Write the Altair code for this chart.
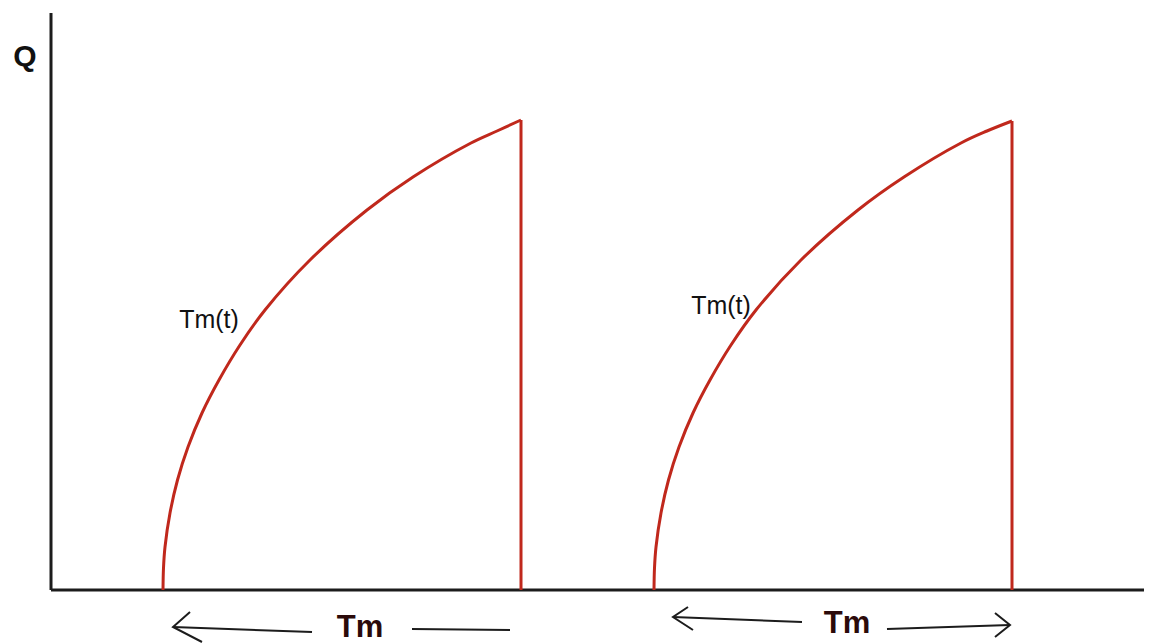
import altair as alt
import pandas as pd

# Curve data in chart units (t along the horizontal axis, Q vertical)
c1_t = [1.12, 1.125, 1.14, 1.19, 1.265, 1.37, 1.51, 1.68, 1.89, 2.14, 2.59, 3.16, 3.62, 4.20, 4.46, 4.70]
c1_q = [0.00, 0.22, 0.43, 0.77, 1.10, 1.43, 1.77, 2.10, 2.45, 2.80, 3.30, 3.80, 4.13, 4.47, 4.59, 4.70]
c2_t = [6.03, 6.035, 6.05, 6.10, 6.175, 6.28, 6.42, 6.59, 6.80, 7.05, 7.50, 8.07, 8.53, 9.10, 9.36, 9.61]
c2_q = [0.00, 0.22, 0.43, 0.77, 1.10, 1.43, 1.77, 2.10, 2.45, 2.80, 3.30, 3.80, 4.13, 4.47, 4.59, 4.69]

# Vertical drops at the end of each cycle
drop_t = [4.70, 9.61]
drop_top = [4.70, 4.69]

# Axis extents
x_axis_end = 10.94
y_axis_end = 5.77

# Labels
curve_labels = ["Tm(t)", "Tm(t)"]
curve_label_t = [1.58, 6.70]
curve_label_q = [2.70, 2.84]
period_labels = ["Tm", "Tm"]
period_label_t = [3.09, 7.96]
period_label_q = [-0.47, -0.43]

# Arrow / bracket polylines (id, t, Q)
arrow_id = ["a", "a", "ah", "ah", "ah", "b", "b", "c", "c", "ch", "ch", "ch", "d", "d", "dh", "dh", "dh"]
arrow_t = [1.22, 2.61, 1.39, 1.22, 1.51, 3.61, 4.59, 6.22, 7.51, 6.37, 6.22, 6.42, 8.36, 9.59, 9.44, 9.59, 9.44]
arrow_q = [-0.37, -0.42, -0.22, -0.37, -0.52, -0.39, -0.40, -0.27, -0.32, -0.17, -0.27, -0.40, -0.39, -0.35, -0.23, -0.35, -0.47]

XD = [-0.43, 10.93]
YD = [-0.53, 5.82]
xs = alt.Scale(domain=XD, nice=False, zero=False)
ys = alt.Scale(domain=YD, nice=False, zero=False)

RED = "#c0281c"
INK = "#1c1c1c"

curves = pd.DataFrame({
    "t": c1_t + c2_t,
    "q": c1_q + c2_q,
    "cycle": ["1"] * len(c1_t) + ["2"] * len(c2_t),
    "i": list(range(len(c1_t))) + list(range(len(c2_t))),
})
curve_layer = alt.Chart(curves).mark_line(color=RED, strokeWidth=3, interpolate="catmull-rom").encode(
    x=alt.X("t:Q", scale=xs, axis=None),
    y=alt.Y("q:Q", scale=ys, axis=None),
    detail="cycle:N",
    order="i:Q",
)

drops = pd.DataFrame({"t": drop_t, "top": drop_top, "bottom": [0, 0]})
drop_layer = alt.Chart(drops).mark_rule(color=RED, strokeWidth=3).encode(
    x=alt.X("t:Q", scale=xs, axis=None),
    y=alt.Y("bottom:Q", scale=ys, axis=None),
    y2="top:Q",
)

axes = pd.DataFrame({"x0": [0, 0], "x1": [x_axis_end, 0], "y0": [0, 0], "y1": [0, y_axis_end]})
axis_layer = alt.Chart(axes).mark_rule(color=INK, strokeWidth=3).encode(
    x=alt.X("x0:Q", scale=xs, axis=None),
    x2="x1:Q",
    y=alt.Y("y0:Q", scale=ys, axis=None),
    y2="y1:Q",
)

arrows = pd.DataFrame({"id": arrow_id, "t": arrow_t, "q": arrow_q, "i": list(range(len(arrow_t)))})
arrow_layer = alt.Chart(arrows).mark_line(color=INK, strokeWidth=2).encode(
    x=alt.X("t:Q", scale=xs, axis=None),
    y=alt.Y("q:Q", scale=ys, axis=None),
    detail="id:N",
    order="i:Q",
)

cl = pd.DataFrame({"label": curve_labels, "t": curve_label_t, "q": curve_label_q})
cl_layer = alt.Chart(cl).mark_text(font="Liberation Sans", fontSize=25, color="#111111").encode(
    x=alt.X("t:Q", scale=xs, axis=None),
    y=alt.Y("q:Q", scale=ys, axis=None),
    text="label:N",
)

pl = pd.DataFrame({"label": period_labels, "t": period_label_t, "q": period_label_q})
pl_layer = alt.Chart(pl).mark_text(font="Liberation Sans", fontSize=31, fontWeight="bold",
                                   baseline="alphabetic", color="#2b0a0a").encode(
    x=alt.X("t:Q", scale=xs, axis=None),
    y=alt.Y("q:Q", scale=ys, axis=None),
    text="label:N",
)

ql = pd.DataFrame({"label": ["Q"], "t": [-0.26], "q": [5.33]})
q_layer = alt.Chart(ql).mark_text(font="Liberation Sans", fontSize=30, fontWeight="bold", color="#111111").encode(
    x=alt.X("t:Q", scale=xs, axis=None),
    y=alt.Y("q:Q", scale=ys, axis=None),
    text="label:N",
)

chart = alt.layer(axis_layer, curve_layer, drop_layer, arrow_layer, cl_layer, pl_layer, q_layer).properties(
    width=1136, height=635, padding=0, autosize=alt.AutoSizeParams(type="none"), background="white"
).configure_view(stroke=None)

chart.save("out.html", embed_options={"renderer": "svg", "actions": False})
